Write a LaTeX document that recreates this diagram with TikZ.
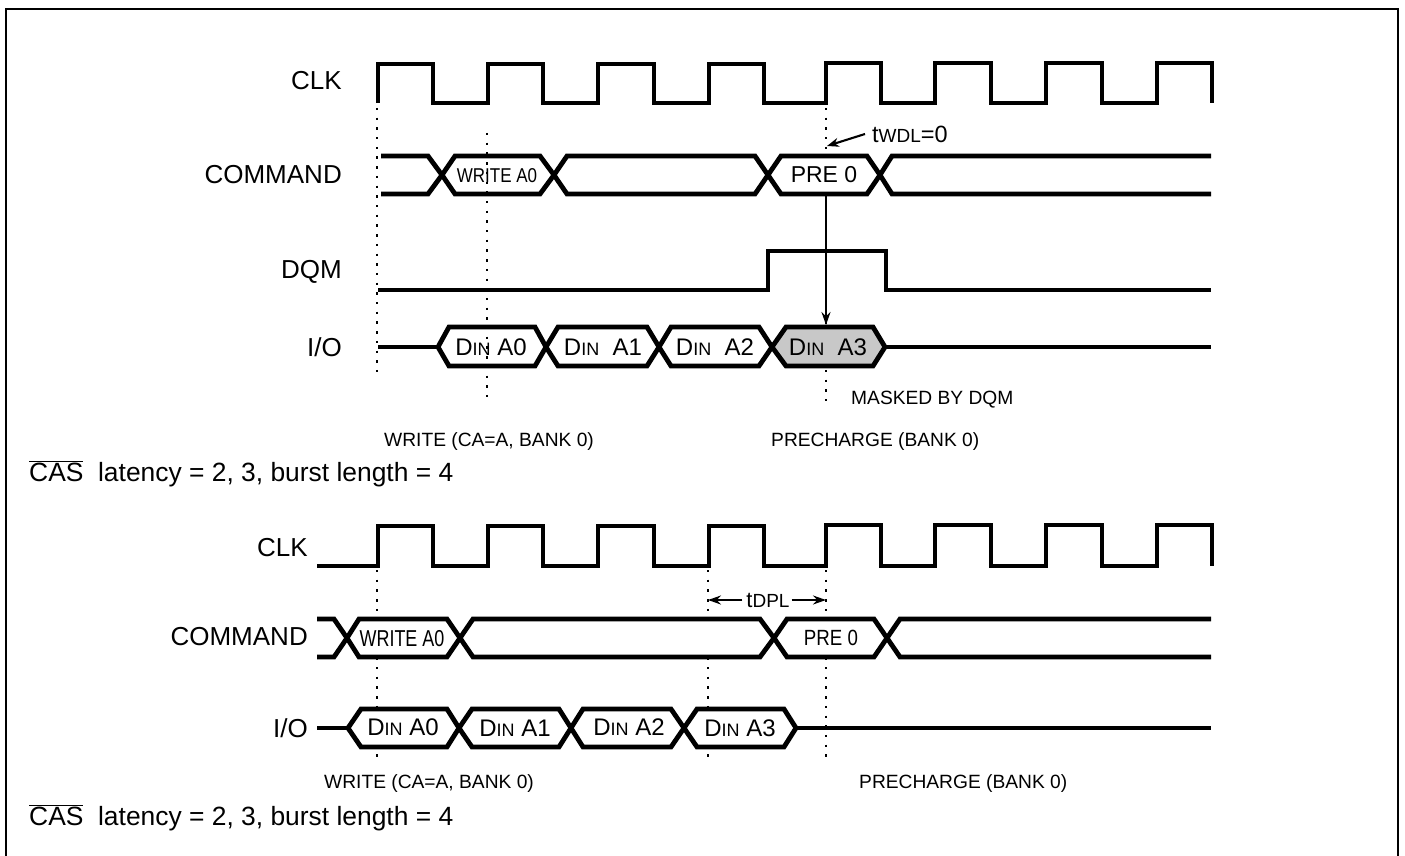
\documentclass[tikz,border=0pt]{standalone}
\usepackage{xcolor}
\usepackage{fontspec}
\setmainfont{Liberation Sans}
\usetikzlibrary{arrows.meta,positioning}
\definecolor{maskgray}{HTML}{C8C8C8}
\newcommand{\din}{D{\fontsize{18}{20}\selectfont IN}}
\newcommand{\cond}[2]{\scalebox{#1}[1]{#2}}

\begin{document}
\begin{tikzpicture}[x=1pt, y=-1pt, >={Stealth[length=13pt,width=9pt]},
    sig/.style={draw, line width=4.8pt, line join=miter},
    bus/.style={sig, fill=white},
    dotline/.style={draw, line width=2.4pt, dash pattern=on 2.4pt off 7.3pt},
    thinarrow/.style={draw, line width=2.1pt, ->},
    siglabel/.style={inner sep=0pt, font=\fontsize{26}{29}\selectfont},
    boxlabel/.style={inner sep=0pt, font=\fontsize{24}{27}\selectfont},
    note/.style={inner sep=0pt, anchor=west, font=\fontsize{19.2}{22}\selectfont},
    caption/.style={inner sep=0pt, anchor=west, font=\fontsize{26.4}{29}\selectfont}]
    \useasboundingbox (0,0) rectangle (1405,856);
    \draw [line width=2.6pt] (6,857) -- (6,9) -- (1398,9) -- (1398,857);

    % top diagram
    \coordinate (clkA) at (378,81);
    \coordinate (cmdA) at (378,175);
    \coordinate (dqmA) at (378,272);
    \coordinate (ioA) at (378,347);
    \node (clkAlabel) [siglabel, left=36pt of clkA] {CLK};
    \node (cmdAlabel) [siglabel, left=36pt of cmdA] {COMMAND};
    \node (dqmAlabel) [siglabel, left=36pt of dqmA] {DQM};
    \node (ioAlabel) [siglabel, left=36pt of ioA] {I/O};

    \path [dotline] (377,108) -- (377,378);
    \path [dotline] (826,108) -- (826,407);

    \draw [sig, line cap=butt] (378,103) -- (378,64) -- (433,64) -- (433,103) -- (488,103) -- (488,64) -- (543,64) -- (543,103) -- (598,103) -- (598,64) -- (654,64) -- (654,103) -- (709,103) -- (709,64) -- (764,64) -- (764,103) -- (826,103) -- (826,63) -- (881,63) -- (881,103) -- (935,103) -- (935,63) -- (991,63) -- (991,103) -- (1046,103) -- (1046,63) -- (1102,63) -- (1102,103) -- (1157,103) -- (1157,63) -- (1212,63) -- (1212,103);

    \path [bus] (381,156) -- (428,156) -- (442,175) -- (428,194) -- (381,194);
    \path [bus] (442,175) -- (455,156) -- (540,156) -- (554,175) -- (540,194) -- (455,194) -- cycle;
    \path [bus] (554,175) -- (567,156) -- (755,156) -- (768,175) -- (755,194) -- (567,194) -- cycle;
    \path [bus] (768,175) -- (781,156) -- (867,156) -- (880,175) -- (867,194) -- (781,194) -- cycle;
    \path [bus] (1211,156) -- (892,156) -- (880,175) -- (892,194) -- (1211,194);
    \node (writeA) [boxlabel, font=\fontsize{20}{23}\selectfont] at (497,176) {\cond{0.85}{WRITE A0}};
    \node (preA) [boxlabel, font=\fontsize{23}{26}\selectfont] at (824,175) {PRE 0};

    \draw [sig] (378,290) -- (768,290) -- (768,251) -- (886,251) -- (886,290) -- (1211,290);

    \draw [sig] (378,347) -- (438,347);
    \draw [sig] (885,347) -- (1211,347);
    \path [bus] (438,347) -- (449,327) -- (535,327) -- (546,347) -- (535,366) -- (449,366) -- cycle;
    \path [bus] (546,347) -- (558,327) -- (647,327) -- (659,347) -- (647,366) -- (558,366) -- cycle;
    \path [bus] (659,347) -- (671,327) -- (759,327) -- (772,347) -- (759,366) -- (671,366) -- cycle;
    \path [bus, fill=maskgray] (772,347) -- (786,327) -- (873,327) -- (885,347) -- (873,366) -- (786,366) -- cycle;
    \node (dinAa) [boxlabel] at (491,347) {\din{} A0};
    \node (dinAb) [boxlabel] at (603,347) {\din~~A1};
    \node (dinAc) [boxlabel] at (715,347) {\din~~A2};
    \node (dinAd) [boxlabel] at (828,347) {\din~~A3};

    \path [dotline] (487,133) -- (487,403);

    \coordinate (preAbottom) at (826,195);
    \coordinate (dinAdtop) at (826,325);
    \path [thinarrow] (preAbottom) -- (dinAdtop);
    \node (twdl) [note, font=\fontsize{23.5}{26}\selectfont] at (872,134) {t{\fontsize{19}{21}\selectfont WDL}=0};
    \coordinate (twdlhit) at (827,146);
    \coordinate (twdltail) at (865,134);
    \path [thinarrow, >={Stealth[length=12pt,width=9pt]}] (twdltail) -- (twdlhit);

    \node (maskedA) [note] at (851,400) {MASKED BY DQM};
    \node (writeAnote) [note] at (384,442) {WRITE (CA=A, BANK 0)};
    \node (preAnote) [note] at (771,442) {PRECHARGE (BANK 0)};
    \node (casA) [caption] at (29,474) {$\overline{\mbox{CAS}}$\ \ latency = 2, 3, burst length = 4};

    % bottom diagram
    \coordinate (clkB) at (317,548);
    \coordinate (cmdB) at (317,637);
    \coordinate (ioB) at (317,728);
    \node (clkBlabel) [siglabel, left=9pt of clkB] {CLK};
    \node (cmdBlabel) [siglabel, left=9pt of cmdB] {COMMAND};
    \node (ioBlabel) [siglabel, left=9pt of ioB] {I/O};

    \path [dotline] (377,570) -- (377,763);
    \path [dotline] (708,570) -- (708,763);
    \path [dotline] (826,570) -- (826,763);

    \draw [sig, line cap=butt] (317,566) -- (378,566) -- (378,526) -- (433,526) -- (433,566) -- (488,566) -- (488,526) -- (543,526) -- (543,566) -- (598,566) -- (598,526) -- (654,526) -- (654,566) -- (709,566) -- (709,526) -- (764,526) -- (764,566) -- (826,566) -- (826,525) -- (881,525) -- (881,566) -- (935,566) -- (935,525) -- (991,525) -- (991,566) -- (1046,566) -- (1046,525) -- (1102,525) -- (1102,566) -- (1157,566) -- (1157,525) -- (1212,525) -- (1212,566);

    \path [bus] (317,619) -- (334,619) -- (347,638) -- (334,657) -- (317,657);
    \path [bus] (347,638) -- (359,619) -- (447,619) -- (460,638) -- (447,657) -- (359,657) -- cycle;
    \path [bus] (460,638) -- (473,619) -- (760,619) -- (774,638) -- (760,657) -- (473,657) -- cycle;
    \path [bus] (774,638) -- (787,619) -- (874,619) -- (887,638) -- (874,657) -- (787,657) -- cycle;
    \path [bus] (1211,619) -- (900,619) -- (887,638) -- (900,657) -- (1211,657);
    \node (writeB) [boxlabel, font=\fontsize{23}{26}\selectfont] at (402,639) {\cond{0.78}{WRITE A0}};
    \node (preB) [boxlabel, font=\fontsize{22}{25}\selectfont] at (831,638) {\cond{0.85}{PRE 0}};

    \draw [sig] (317,728) -- (348,728);
    \draw [sig] (796,728) -- (1211,728);
    \path [bus] (348,728) -- (361,709) -- (447,709) -- (459,728) -- (447,747) -- (361,747) -- cycle;
    \path [bus] (459,728) -- (472,709) -- (559,709) -- (571,728) -- (559,747) -- (472,747) -- cycle;
    \path [bus] (571,728) -- (583,709) -- (671,709) -- (684,728) -- (671,747) -- (583,747) -- cycle;
    \path [bus] (684,728) -- (697,709) -- (784,709) -- (796,728) -- (784,747) -- (697,747) -- cycle;
    \node (dinBa) [boxlabel] at (403,727) {\din{} A0};
    \node (dinBb) [boxlabel] at (515,728) {\din{} A1};
    \node (dinBc) [boxlabel] at (629,727) {\din{} A2};
    \node (dinBd) [boxlabel] at (740,728) {\din{} A3};

    \node (tdpl) [boxlabel, font=\fontsize{22}{25}\selectfont] at (768,600) {t{\fontsize{19}{21}\selectfont DPL}};
    \coordinate (tdplleft) at (708,600);
    \coordinate (tdplright) at (826,600);
    \path [thinarrow] (tdpl.west) ++(-4pt,0) -- (tdplleft);
    \path [thinarrow] (tdpl.east) ++(2pt,0) -- (tdplright);

    \node (writeBnote) [note] at (324,784) {WRITE (CA=A, BANK 0)};
    \node (preBnote) [note] at (859,784) {PRECHARGE (BANK 0)};
    \node (casB) [caption] at (29,818) {$\overline{\mbox{CAS}}$\ \ latency = 2, 3, burst length = 4};
\end{tikzpicture}
\end{document}
